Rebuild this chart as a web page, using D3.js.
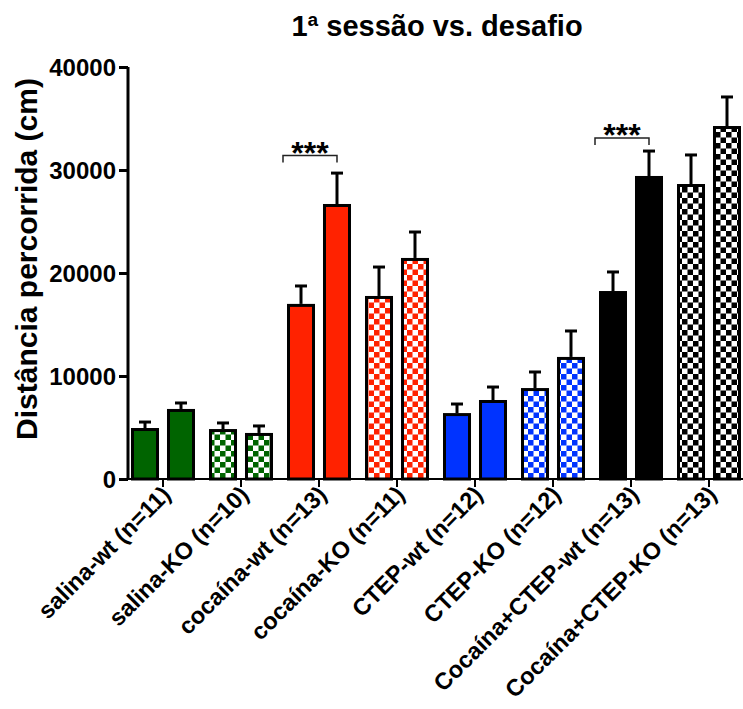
<!DOCTYPE html>
<html>
<head>
<meta charset="utf-8">
<script src="https://cdn.jsdelivr.net/npm/d3@7"></script>
<style>
	body { margin: 0; background: #fff; }
	svg text { font-family: "Liberation Sans", Arial, sans-serif; font-weight: bold; fill: #000; }
</style>
</head>
<body>
<svg id="plot" width="743" height="709"></svg>
<script>
const GROUPS = ['salina-wt (n=11)', 'salina-KO (n=10)', 'cocaína-wt (n=13)', 'cocaína-KO (n=11)',
	'CTEP-wt (n=12)', 'CTEP-KO (n=12)', 'Cocaína+CTEP-wt (n=13)', 'Cocaína+CTEP-KO (n=13)'];
const SESSIONS = ['1ª sessão', 'desafio'];
const MEAN_FIRST = [4950, 4850, 17000, 17770, 6400, 8830, 18250, 28640];
const SEM_FIRST = [580, 590, 1740, 2810, 880, 1560, 1850, 2820];
const MEAN_CHALLENGE = [6800, 4470, 26700, 21460, 7670, 11850, 29420, 34270];
const SEM_CHALLENGE = [580, 680, 3000, 2520, 1260, 2520, 2420, 2820];
const GROUP_COLORS = ['#006400', '#006400', '#ff2200', '#ff2200', '#0033ff', '#0033ff', '#000000', '#000000'];
const CHECKERED = [false, true, false, true, false, true, false, true];
const Y_TICKS = [0, 10000, 20000, 30000, 40000];
// bracket level given in data units
const SIGNIFICANT = [{ group: 2, label: '***', level: 31400 }, { group: 6, label: '***', level: 33100 }];

const svg = d3.select('#plot');

// flatten into one row per bar
const bars = [];
GROUPS.forEach((g, i) => {
	bars.push({ group: g, session: SESSIONS[0], mean: MEAN_FIRST[i], sem: SEM_FIRST[i], color: GROUP_COLORS[i], checker: CHECKERED[i] });
	bars.push({ group: g, session: SESSIONS[1], mean: MEAN_CHALLENGE[i], sem: SEM_CHALLENGE[i], color: GROUP_COLORS[i], checker: CHECKERED[i] });
});

const x0 = d3.scaleBand().domain(GROUPS).range([124, 748]);
const x1 = d3.scaleBand().domain(SESSIONS).range([7, 71]).paddingInner(0.222);
const y = d3.scaleLinear().domain([0, 40000]).range([479, 67]);

// checker patterns, one per colour
const defs = svg.append('defs');
const sq = 5.5;
const patternId = c => 'chk' + c.replace('#', '');
Array.from(new Set(GROUP_COLORS)).forEach(c => {
	const p = defs.append('pattern')
		.attr('id', patternId(c))
		.attr('patternUnits', 'userSpaceOnUse')
		.attr('width', sq * 2).attr('height', sq * 2);
	p.append('rect').attr('width', sq * 2).attr('height', sq * 2).attr('fill', '#fff');
	p.append('rect').attr('width', sq).attr('height', sq).attr('fill', c);
	p.append('rect').attr('x', sq).attr('y', sq).attr('width', sq).attr('height', sq).attr('fill', c);
});

const bw = x1.bandwidth();
const barX = d => x0(d.group) + x1(d.session);

// error bars (upper only)
const err = svg.append('g').attr('stroke', '#000').attr('stroke-width', 3);
err.selectAll('line.v').data(bars).enter().append('line')
	.attr('x1', d => barX(d) + bw / 2).attr('x2', d => barX(d) + bw / 2)
	.attr('y1', d => y(d.mean)).attr('y2', d => y(d.mean + d.sem));
err.selectAll('line.c').data(bars).enter().append('line')
	.attr('x1', d => barX(d) + bw / 2 - 6).attr('x2', d => barX(d) + bw / 2 + 6)
	.attr('y1', d => y(d.mean + d.sem)).attr('y2', d => y(d.mean + d.sem));

svg.append('g').selectAll('rect').data(bars).enter().append('rect')
	.attr('x', d => barX(d) + 1.5)
	.attr('y', d => y(d.mean) + 1.5)
	.attr('width', bw - 3)
	.attr('height', d => y(0) - y(d.mean) - 1.5)
	.attr('fill', d => d.checker ? 'url(#' + patternId(d.color) + ')' : d.color)
	.attr('stroke', '#000')
	.attr('stroke-width', 3);

// y axis
const yAxis = svg.append('g')
	.attr('transform', 'translate(128,0)')
	.call(d3.axisLeft(y).tickValues(Y_TICKS).tickFormat(d3.format('d')).tickSize(9).tickPadding(3));
yAxis.select('.domain').attr('stroke-width', 3).attr('d', 'M0,' + y(0) + 'V' + y(40000));
yAxis.selectAll('.tick line').attr('stroke-width', 3);
yAxis.selectAll('.tick text').style('font-size', '24px').attr('dy', '0.36em');

// x axis
const xAxis = svg.append('g')
	.attr('transform', 'translate(0,' + y(0) + ')')
	.call(d3.axisBottom(x0).tickSize(8).tickFormat(''));
xAxis.select('.domain').attr('stroke-width', 2).attr('d', 'M128,0H743');
xAxis.selectAll('.tick line').attr('stroke-width', 2);

svg.append('g').selectAll('text').data(GROUPS).enter().append('text')
	.attr('transform', d => 'translate(' + (x0(d) + x0.bandwidth() / 2 + 9) + ',496) rotate(-45)')
	.attr('text-anchor', 'end')
	.style('font-size', '23.5px')
	.text(d => d);

// significance brackets
SIGNIFICANT.forEach(s => {
	const g = GROUPS[s.group];
	const left = x0(g) + x1(SESSIONS[0]) - 4;
	const right = x0(g) + x1(SESSIONS[1]) + bw / 2;
	const top = y(s.level);
	svg.append('path')
		.attr('d', 'M' + left + ',' + (top + 7) + 'V' + top + 'H' + right + 'V' + (top + 7))
		.attr('fill', 'none').attr('stroke', '#222').attr('stroke-width', 1.5);
	svg.append('text')
		.attr('x', (left + right) / 2).attr('y', top + 8)
		.attr('text-anchor', 'middle')
		.style('font-size', '32px')
		.text(s.label);
});

svg.append('text')
	.attr('x', 437).attr('y', 36)
	.attr('text-anchor', 'middle')
	.style('font-size', '29px')
	.text('1ª sessão vs. desafio');

svg.append('text')
	.attr('transform', 'translate(37,259) rotate(-90)')
	.attr('text-anchor', 'middle')
	.style('font-size', '30px')
	.text('Distância percorrida (cm)');
</script>
</body>
</html>
